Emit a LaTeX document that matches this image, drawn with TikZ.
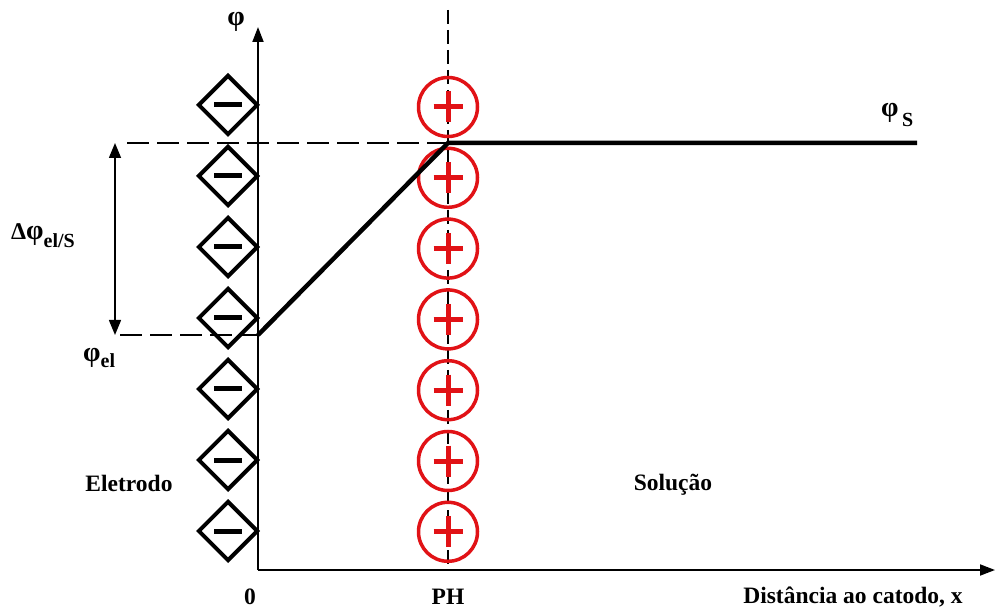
\documentclass[tikz,border=0pt]{standalone}
\usepackage{fontspec}
\setmainfont{Liberation Serif}
\usetikzlibrary{arrows.meta,shapes.geometric}
\definecolor{plusred}{RGB}{225,18,22}
\begin{document}
\begin{tikzpicture}[x=1pt,y=-1pt,
  lbl/.style={font=\fontsize{23.5}{25}\selectfont\bfseries, inner sep=0},
  sym/.style={font=\fontsize{28}{30}\selectfont\bfseries, inner sep=0},
  minusbox/.style={shape=diamond, draw, line width=4pt, minimum width=60pt, minimum height=60pt, inner sep=0, aspect=1},
  plusbox/.style={circle, draw=plusred, line width=3.5pt, minimum size=59pt, inner sep=0},
  axisline/.style={line width=1.8pt, -{Triangle[length=15pt,width=11pt]}},
  guide/.style={line width=1.5pt, dash pattern=on 22pt off 8pt},
  potline/.style={line width=4.5pt},
  barline/.style={line width=5pt},
]
\useasboundingbox[fill=white] (0,0) rectangle (996,609);

% coordinates
\coordinate (O) at (258,570);
\coordinate (ytop) at (258,27);
\coordinate (xend) at (995,570);
\coordinate (phtop) at (448,10);
\coordinate (phbot) at (448,570);
\coordinate (Sstart) at (127,143);
\coordinate (Sknee) at (448,143);
\coordinate (Send) at (917,143);
\coordinate (elstart) at (120,335);
\coordinate (elend) at (258,335);
\coordinate (arrT) at (115,143);
\coordinate (arrB) at (115,335);

% dashed guide lines
\draw[line width=1.3pt, dash pattern=on 14pt off 6pt] (phtop) -- (phbot);
\draw[guide] (Sstart) -- (Sknee);
\draw[guide] (elstart) -- (elend);

% axes
\draw[axisline] (O) -- (ytop);
\draw[axisline] (O) -- (xend);

% double arrow
\draw[line width=1.5pt, {Triangle[length=15pt,width=12pt]}-{Triangle[length=15pt,width=12pt]}] (arrT) -- (arrB);

% negative charges (electrode)
\foreach \i in {0,...,6}{
  \node[minusbox] (m\i) at (228,{105+71*\i}) {};
  \draw[barline] (m\i.center) ++(-14,0) -- ++(28,0);
}

% positive charges (solution)
\foreach \i in {0,...,6}{
  \node[plusbox] (p\i) at (448,{107+70.8*\i}) {};
  \draw[barline, draw=plusred] (p\i.center) ++(-14.5,0) -- ++(29,0);
  \draw[barline, draw=plusred] (p\i.center) ++(0,-15.5) -- ++(0,31);
}

% potential profile
\draw[potline] (elend) -- (Sknee) -- (Send);

% labels
\node[sym] (phiy) at (236,22) {φ};
\node[sym, anchor=base west] (dphi) at (11,240) {{\fontsize{24}{24}\selectfont Δ}φ\raisebox{-8pt}{\fontsize{20}{20}\selectfont el/S}};
\node[sym, anchor=base west] (phiel) at (83,362) {φ\raisebox{-6pt}{\fontsize{20}{20}\selectfont el}};
\node[sym, anchor=base west] (phiS) at (881,117) {φ\raisebox{-10pt}{\fontsize{20}{20}\selectfont\,S}};
\node[lbl, anchor=base] (eletrodo) at (129,491) {Eletrodo};
\node[lbl, anchor=base] (solucao) at (673,490) {Solução};
\node[lbl, anchor=base] (zero) at (250,604) {0};
\node[lbl, anchor=base] (ph) at (448,604) {PH};
\node[lbl, anchor=base] (dist) at (853,603) {Distância ao catodo, x};
\end{tikzpicture}
\end{document}
